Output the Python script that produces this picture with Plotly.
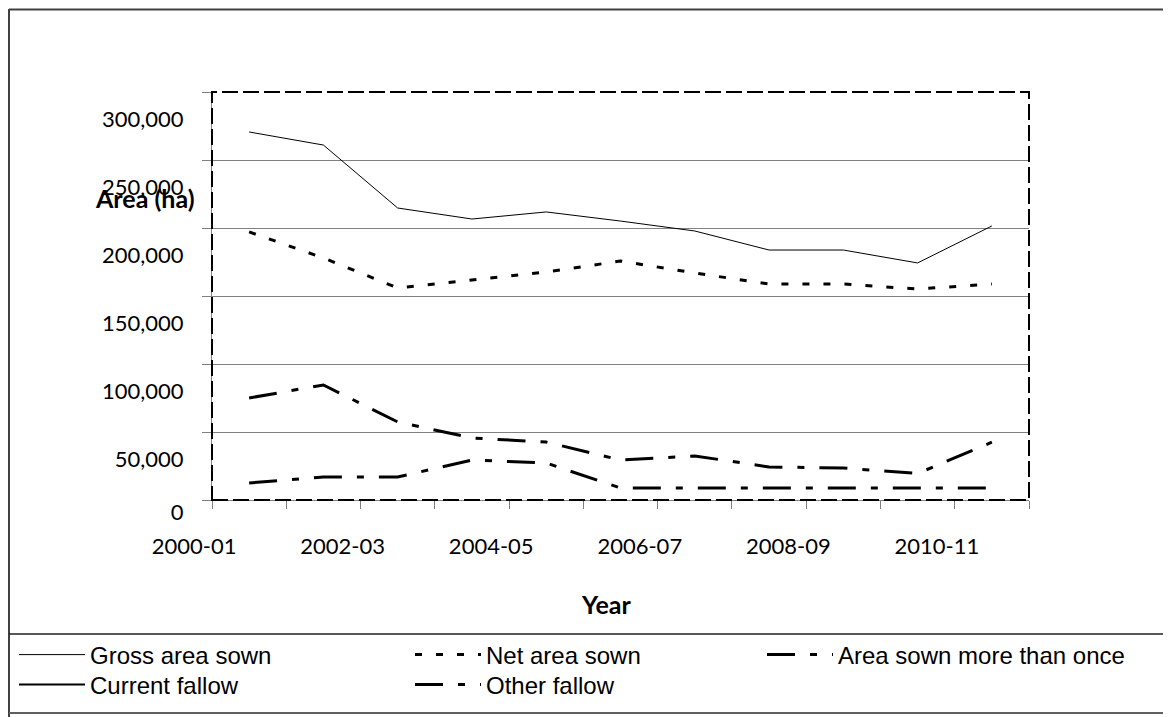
import plotly.graph_objects as go

years = ["2000-01", "2001-02", "2002-03", "2003-04", "2004-05", "2005-06",
         "2006-07", "2007-08", "2008-09", "2009-10", "2010-11"]
gross_area_sown = [270600, 261000, 214700, 206600, 211800, 205100, 197800, 183800, 183800, 174300, 201500]
net_area_sown = [197100, 178000, 155900, 161800, 167600, 175700, 166900, 158800, 158800, 155100, 158800]
area_sown_more_than_once = [75000, 84600, 57400, 45600, 42600, 29400, 32400, 24300, 23500, 19500, 42500]
current_fallow = [None] * 11
other_fallow = [12500, 16900, 16900, 29400, 27200, 8800, 8800, 8800, 8800, 8800, 8800]
y_tick_values = [0, 50000, 100000, 150000, 200000, 250000, 300000]
y_tick_labels = ["0", "50,000", "100,000", "150,000", "200,000", "250,000", "300,000"]

OFF = 8  # page body margin
W, H = 1171 - OFF, 717 - OFF
L, R, T, B = 212, 1029, 92, 500  # plot area in screen pixels

def px(x):
    return (x - L) / (R - L)

def py(y):
    return (B - y) / (B - T)

LD = "28px,15px,7px,15px"
series = [
    ("Gross area sown", gross_area_sown, dict(color="black", width=1), "legend", "y"),
    ("Net area sown", net_area_sown, dict(color="black", width=3, dash="7px,14px"), "legend2", "y"),
    ("Area sown more than once", area_sown_more_than_once, dict(color="black", width=3, dash=LD), "legend3", "y"),
    ("Current fallow", current_fallow, dict(color="black", width=2), "legend4", "y"),
    ("Other fallow", other_fallow, dict(color="black", width=3, dash=LD), "legend5", "y2"),
]

fig = go.Figure()
for name, vals, line, lg, ax in series:
    fig.add_trace(go.Scatter(x=years, y=vals, mode="lines", name=name, line=line,
                             legend=lg, showlegend=True, yaxis=ax))

legend_font = dict(family="Liberation Sans, Arial", size=24, color="black")
def leg(xs, ys):
    return dict(x=(xs - OFF) / W, y=1 - (ys - OFF) / H, xref="container", yref="container",
                xanchor="left", yanchor="middle", font=legend_font,
                bgcolor="rgba(0,0,0,0)", itemwidth=66, borderwidth=0)

tick_font = dict(family="Lato, Calibri, sans-serif", size=22, color="black")

# gridlines/ticks on yaxis; labels split so the zero label sits as in the source
main_labels = ["" if v == 0 else t for v, t in zip(y_tick_values, y_tick_labels)]
zero_vals = [v for v in y_tick_values if v == 0]
zero_labels = [t for v, t in zip(y_tick_values, y_tick_labels) if v == 0]

fig.update_layout(
    width=W, height=H,
    margin=dict(l=L - OFF, r=W - (R - OFF), t=T - OFF, b=H - (B - OFF), autoexpand=False),
    paper_bgcolor="white", plot_bgcolor="white",
    legend=leg(14, 655), legend2=leg(410, 655), legend3=leg(762, 655),
    legend4=leg(14, 685), legend5=leg(410, 685),
    xaxis=dict(type="category", range=[-0.5, 10.5], tickson="boundaries",
               ticks="outside", ticklen=8, tickcolor="#808080", showline=True,
               linecolor="#808080", linewidth=1, showgrid=False, ticklabelstep=2,
               tickangle=0, ticklabelshift=-55, ticklabelstandoff=27, tickfont=tick_font),
    yaxis=dict(range=[0, 300000], tickvals=y_tick_values, ticktext=main_labels,
               ticks="outside", ticklen=9, tickcolor="#808080", showline=True,
               linecolor="#808080", showgrid=True, gridcolor="#808080", gridwidth=1,
               zeroline=False, ticklabelshift=27, ticklabelstandoff=14,
               tickfont=tick_font),
    yaxis2=dict(range=[0, 300000], overlaying="y", side="left", anchor="x",
                tickvals=zero_vals, ticktext=zero_labels, ticks="outside", ticklen=9,
                tickcolor="rgba(0,0,0,0)", showline=False, showgrid=False, zeroline=False,
                ticklabelshift=12, ticklabelstandoff=14, tickfont=tick_font),
    font=dict(family="Lato", color="black"),
)

shapes = [
    dict(type="rect", xref="paper", yref="paper", x0=0, x1=1, y0=0, y1=1,
         line=dict(color="black", width=2, dash="16px,5px")),
    dict(type="line", xref="paper", yref="paper", x0=px(9), x1=px(9), y0=py(9), y1=py(717),
         line=dict(color="#404040", width=2)),
    dict(type="line", xref="paper", yref="paper", x0=px(9), x1=px(1171), y0=py(9.5), y1=py(9.5),
         line=dict(color="#404040", width=2)),
    dict(type="line", xref="paper", yref="paper", x0=px(9), x1=px(1171), y0=py(634), y1=py(634),
         line=dict(color="#202020", width=1.5)),
    dict(type="line", xref="paper", yref="paper", x0=px(9), x1=px(1171), y0=py(713), y1=py(713),
         line=dict(color="#606060", width=2)),
]
fig.update_layout(shapes=shapes)

title_font = dict(family="Lato, Calibri, sans-serif", size=25, color="black")
fig.add_annotation(x=px(145), y=py(198), xref="paper", yref="paper", text="<b>Area (ha)</b>",
                   xanchor="center", yanchor="middle", showarrow=False, font=title_font)
fig.add_annotation(x=px(606), y=py(604), xref="paper", yref="paper", text="<b>Year</b>",
                   xanchor="center", yanchor="middle", showarrow=False, font=title_font)

fig.write_html("out.html")
